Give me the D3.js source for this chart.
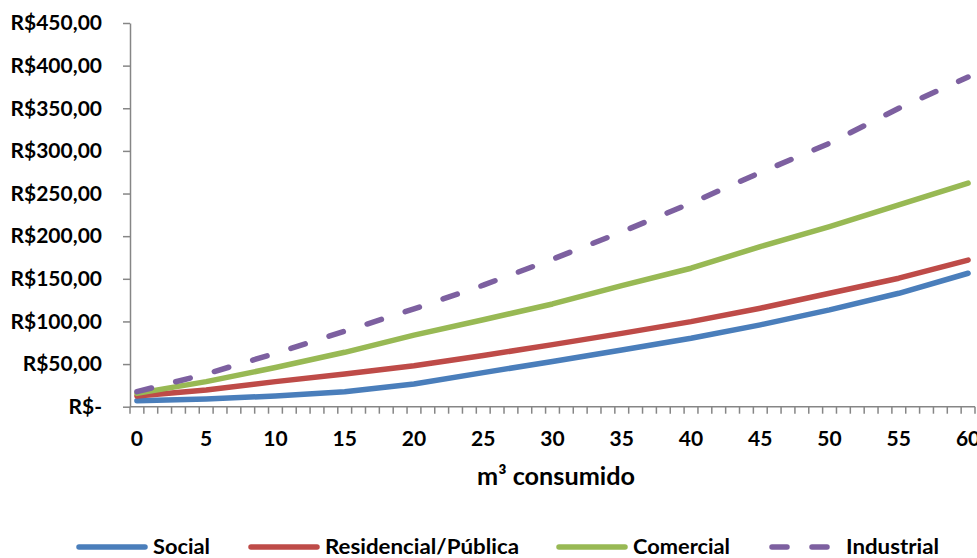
<!DOCTYPE html>
<html><head><meta charset="utf-8">
<script src="https://cdn.jsdelivr.net/npm/d3@7"></script>
<style>
html,body{margin:0;padding:0;background:#fff;}
svg{display:block;font-family:Lato, "Open Sans", sans-serif;font-weight:bold;}
</style></head>
<body>
<svg id="chart" width="977" height="558"></svg>
<script>
// ---- data ----
const categories = d3.range(0, 61);            // m³ consumido (category axis 0..60)
const labeledCategories = [0,5,10,15,20,25,30,35,40,45,50,55,60];
const sampleX = [0,5,10,15,20,25,30,35,40,45,50,55,60];
const social      = [7.0, 9.0, 12.6, 17.6, 26.6, 40, 53, 66.5, 80.3, 96, 113.5, 133, 156.5];
const residencial = [12.6, 19.6, 29.4, 38.4, 48, 60, 72.8, 86, 99.8, 115.5, 133, 150.7, 172];
const comercial   = [15.6, 29.4, 46, 63.8, 84, 102, 120.5, 142, 162.4, 187.8, 211.3, 236.7, 262.2];
const industrial  = [17.6, 38.4, 62.6, 88.5, 114.7, 142.5, 173, 205, 238.8, 274.6, 309, 350, 386.6];
const seriesNames = ["Social", "Residencial/Pública", "Comercial", "Industrial"];
const yTicks = [0,50,100,150,200,250,300,350,400,450];
const yTickLabels = ["R$-","R$50,00","R$100,00","R$150,00","R$200,00","R$250,00","R$300,00","R$350,00","R$400,00","R$450,00"];
const xTitle = "m³ consumido";

// ---- layout ----
const svg = d3.select("#chart");
const plotLeft = 130, plotRight = 975, plotTop = 23, plotBottom = 406.7;
const x = d3.scaleBand().domain(categories).range([plotLeft, plotRight]).padding(0);
const y = d3.scaleLinear().domain([0, 450]).range([plotBottom, plotTop]);
const axisColor = "#868686";

// y axis
const yAxis = d3.axisLeft(y).tickValues(yTicks)
  .tickFormat((d,i) => yTickLabels[i]).tickSize(7).tickSizeOuter(0).tickPadding(21);
const gy = svg.append("g").attr("transform", `translate(${plotLeft},0)`).call(yAxis);
gy.select(".domain").attr("stroke", axisColor).attr("stroke-width", 1.5);
gy.selectAll(".tick line").attr("stroke", axisColor).attr("stroke-width", 1.5);
gy.selectAll(".tick text").attr("fill", "#000").style("font-size", "21px")
  .style("font-family", "Lato").style("font-weight", "bold");

// x axis: ticks at category boundaries
const gx = svg.append("g");
gx.append("line").attr("x1", plotLeft).attr("x2", plotRight).attr("y1", plotBottom).attr("y2", plotBottom)
  .attr("stroke", axisColor).attr("stroke-width", 1.5);
const boundaries = categories.map(c => x(c)).concat([x(categories[categories.length-1]) + x.bandwidth()]);
gx.selectAll("line.tk").data(boundaries).join("line").attr("class","tk")
  .attr("x1", d => d).attr("x2", d => d).attr("y1", plotBottom).attr("y2", plotBottom + 7)
  .attr("stroke", axisColor).attr("stroke-width", 1.5);
gx.selectAll("text.xl").data(labeledCategories).join("text").attr("class","xl")
  .attr("x", d => x(d) + x.bandwidth()/2).attr("y", 446)
  .attr("text-anchor", "middle").style("font-size", "21px").text(d => d);

// x title
svg.append("text").attr("x", 556).attr("y", 485).attr("text-anchor","middle")
  .attr("textLength", 158).attr("lengthAdjust", "spacingAndGlyphs")
  .style("font-size","24px").text(xTitle);

// lines
const colors = ["#4A7EBB", "#BE4B48", "#98B954", "#7D60A0"];
const dash = "15 25";
const allSeries = [social, residencial, comercial, industrial];
const line = d3.line().x(d => x(d[0]) + x.bandwidth()/2).y(d => y(d[1]));
allSeries.forEach((vals, i) => {
  const pts = sampleX.map((c, j) => [c, vals[j]]);
  const p = svg.append("path").attr("d", line(pts)).attr("fill","none")
    .attr("stroke", colors[i]).attr("stroke-width", 5.5)
    .attr("stroke-linecap","round").attr("stroke-linejoin","round");
  if (i === 3) p.attr("stroke-dasharray", dash);
});

// legend
const legendX = [79, 251, 559, 772];
const legendTextW = [57, 194, 97, 93];
const ly = 547;
seriesNames.forEach((name, i) => {
  const g = svg.append("g");
  const l = g.append("line").attr("x1", legendX[i]).attr("x2", legendX[i] + 66)
    .attr("y1", ly).attr("y2", ly).attr("stroke", colors[i]).attr("stroke-width", 5.5)
    .attr("stroke-linecap","round");
  if (i === 3) l.attr("stroke-dasharray", dash);
  g.append("text").attr("x", legendX[i] + 74).attr("y", 553.5)
    .attr("textLength", legendTextW[i]).attr("lengthAdjust", "spacingAndGlyphs")
    .style("font-size","21px").text(name);
});
</script>
</body></html>
